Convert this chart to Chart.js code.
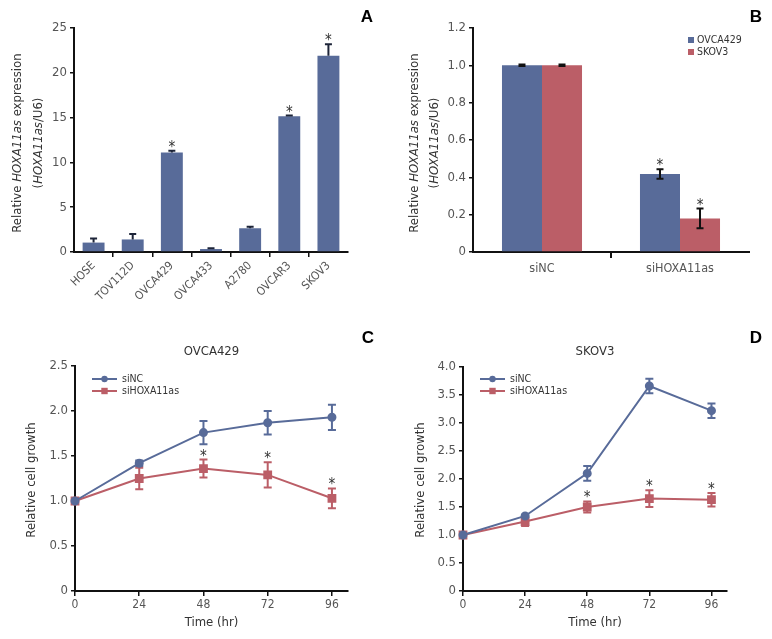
<!DOCTYPE html>
<html>
<head>
<meta charset="utf-8">
<script src="https://cdn.jsdelivr.net/npm/chart.js@4.4.1/dist/chart.umd.min.js"></script>
<style>
body { margin: 0; background: #fff; }
#fig { position: relative; width: 772px; height: 639px; }
canvas { position: absolute; }
</style>
</head>
<body>
<div id="fig">
  <canvas id="cA" width="390" height="300" style="left:0;top:0"></canvas>
  <canvas id="cB" width="382" height="300" style="left:390px;top:0"></canvas>
  <canvas id="cC" width="390" height="339" style="left:0;top:300px"></canvas>
  <canvas id="cD" width="382" height="339" style="left:390px;top:300px"></canvas>
</div>
<script>
// panel A - expression in cell lines
const cellLines = ['HOSE', 'TOV112D', 'OVCA429', 'OVCA433', 'A2780', 'OVCAR3', 'SKOV3'];
const exprMean = [1.05, 1.4, 11.1, 0.33, 2.65, 15.15, 21.9];
const exprErr = [0.45, 0.6, 0.2, 0.08, 0.18, 0.08, 1.3];
const exprSig = [false, false, true, false, false, true, true];

// panel B - knockdown
const groups = ['siNC', 'siHOXA11as'];
const kdOvca = [1.0, 0.418];
const kdOvcaErr = [0.004, 0.025];
const kdSkov = [1.0, 0.18];
const kdSkovErr = [0.004, 0.053];
const kdSig = [false, true];

// panels C and D - growth curves
const hours = [0, 24, 48, 72, 96];
const ovNC = [1.0, 1.42, 1.76, 1.87, 1.93];
const ovNCErr = [0.01, 0.03, 0.13, 0.13, 0.14];
const ovSi = [1.0, 1.25, 1.36, 1.29, 1.03];
const ovSiErr = [0.01, 0.12, 0.1, 0.14, 0.11];
const skNC = [1.0, 1.34, 2.1, 3.66, 3.22];
const skNCErr = [0.01, 0.02, 0.13, 0.13, 0.13];
const skSi = [1.0, 1.24, 1.5, 1.65, 1.63];
const skSiErr = [0.01, 0.08, 0.1, 0.15, 0.12];
const growthSig = [false, false, true, true, true];

const FONT = "'Liberation Sans Narrow', 'DejaVu Sans Condensed', 'Arial Narrow', Arial, sans-serif";
const BLUE = '#586b99';
const RED = '#bb5e67';
const AXIS = '#111';
const TICK = '#555';
const TEXT = '#333';

Chart.defaults.font.family = FONT;
Chart.defaults.font.size = 12;

function vTitle(ctx, lines, cx, cy, size) {
  // lines: [{x, parts: [[text, italic], ...]}]
  ctx.save();
  ctx.fillStyle = TEXT;
  ctx.textBaseline = 'middle';
  ctx.textAlign = 'left';
  lines.forEach(line => {
    ctx.save();
    ctx.translate(line.x, cy);
    ctx.rotate(-Math.PI / 2);
    let total = 0;
    line.parts.forEach(p => {
      ctx.font = (p[1] ? 'italic ' : '') + size + 'px ' + FONT;
      total += ctx.measureText(p[0]).width;
    });
    let x = -total / 2;
    line.parts.forEach(p => {
      ctx.font = (p[1] ? 'italic ' : '') + size + 'px ' + FONT;
      ctx.fillText(p[0], x, 0);
      x += ctx.measureText(p[0]).width;
    });
    ctx.restore();
  });
  ctx.restore();
}

function text(ctx, str, x, y, size, opts) {
  opts = opts || {};
  ctx.save();
  ctx.font = (opts.bold ? 'bold ' : '') + size + 'px ' + (opts.family || FONT);
  ctx.fillStyle = opts.color || TEXT;
  ctx.textAlign = opts.align || 'center';
  ctx.textBaseline = opts.baseline || 'middle';
  ctx.fillText(str, x, y);
  ctx.restore();
}

function letter(ctx, l, x, y) {
  text(ctx, l, x, y, 17, { bold: true, color: '#000', family: 'Arial, Liberation Sans, sans-serif' });
}

function star(ctx, x, yTop) {
  text(ctx, '*', x, yTop + 1, 15, { baseline: 'alphabetic' });
}

function errBar(ctx, x, yA, yB, half, color, capBottom) {
  ctx.save();
  ctx.strokeStyle = color;
  ctx.lineWidth = 2;
  ctx.beginPath();
  ctx.moveTo(x, yA); ctx.lineTo(x, yB);
  ctx.moveTo(x - half, yA); ctx.lineTo(x + half, yA);
  if (capBottom) { ctx.moveTo(x - half, yB); ctx.lineTo(x + half, yB); }
  ctx.stroke();
  ctx.restore();
}

function yTitleText() {
  return [
    [['Relative ', false], ['HOXA11as', true], [' expression', false]],
    [['(', false], ['HOXA11as', true], ['/U6)', false]]
  ];
}

function axisX(extra) {
  return Object.assign({
    grid: { drawOnChartArea: false, tickLength: 5, lineWidth: 1.5, color: AXIS },
    border: { color: AXIS, width: 2 },
    ticks: { color: TICK, font: { size: 12 }, padding: 2 }
  }, extra);
}
function axisY(extra) {
  return Object.assign({
    grid: { drawOnChartArea: false, tickLength: 4, lineWidth: 1.5, color: AXIS },
    border: { color: AXIS, width: 2 },
    ticks: { color: TICK, font: { size: 13 }, padding: 3 }
  }, extra);
}

// ---------- A ----------
new Chart(document.getElementById('cA'), {
  type: 'bar',
  data: {
    labels: cellLines,
    datasets: [{ data: exprMean, backgroundColor: BLUE, barPercentage: 0.56, categoryPercentage: 1 }]
  },
  options: {
    responsive: false,
    animation: false,
    layout: { padding: { top: 28, right: 42 } },
    plugins: { legend: { display: false }, tooltip: { enabled: false } },
    scales: {
      x: axisX({
        grid: { offset: true, drawOnChartArea: false, tickLength: 5, lineWidth: 1.5,
          color: c => c.index > 0 ? AXIS : 'rgba(0,0,0,0)' },
        ticks: { color: TICK, font: { size: 11.5 }, padding: 2, minRotation: 45, maxRotation: 45 },
        afterFit: s => { s.height = 48; }
      }),
      y: axisY({
        min: 0, max: 25,
        ticks: { color: TICK, font: { size: 13 }, padding: 3, stepSize: 5 },
        afterFit: s => { s.width = 74; }
      })
    }
  },
  plugins: [{
    id: 'decoA',
    afterDatasetsDraw(chart) {
      const ctx = chart.ctx;
      const y = chart.scales.y;
      chart.getDatasetMeta(0).data.forEach((bar, i) => {
        const top = y.getPixelForValue(exprMean[i] + exprErr[i]);
        errBar(ctx, bar.x, top, bar.y, 3.5, '#1d2438', false);
        if (exprSig[i]) star(ctx, bar.x, top);
      });
      const t = yTitleText();
      vTitle(ctx, [{ x: 18, parts: t[0] }, { x: 39, parts: t[1] }], 0, 143, 13);
      letter(ctx, 'A', 367, 17);
    }
  }]
});

// ---------- B ----------
const errB = [kdOvcaErr, kdSkovErr];
const valB = [kdOvca, kdSkov];
new Chart(document.getElementById('cB'), {
  type: 'bar',
  data: {
    labels: groups,
    datasets: [
      { label: 'OVCA429', data: kdOvca, backgroundColor: BLUE, barPercentage: 1, categoryPercentage: 0.58 },
      { label: 'SKOV3', data: kdSkov, backgroundColor: RED, barPercentage: 1, categoryPercentage: 0.58 }
    ]
  },
  options: {
    responsive: false,
    animation: false,
    layout: { padding: { top: 28, right: 23 } },
    plugins: { legend: { display: false }, tooltip: { enabled: false } },
    scales: {
      x: axisX({
        grid: { offset: true, drawOnChartArea: false, tickLength: 6, lineWidth: 2,
          color: c => c.index > 0 ? AXIS : 'rgba(0,0,0,0)' },
        ticks: { color: TICK, font: { size: 12.5 }, padding: 3 },
        afterFit: s => { s.height = 48; }
      }),
      y: axisY({
        min: 0, max: 1.2,
        ticks: { color: TICK, font: { size: 13 }, padding: 3, stepSize: 0.2,
          callback: v => v === 0 ? '0' : v.toFixed(1) },
        afterFit: s => { s.width = 83; }
      })
    }
  },
  plugins: [{
    id: 'decoB',
    afterDatasetsDraw(chart) {
      const ctx = chart.ctx;
      const y = chart.scales.y;
      [0, 1].forEach(d => {
        chart.getDatasetMeta(d).data.forEach((bar, i) => {
          const top = y.getPixelForValue(valB[d][i] + errB[d][i]);
          const bot = y.getPixelForValue(valB[d][i] - errB[d][i]);
          errBar(ctx, bar.x, top, bot, 3.5, '#111', true);
          if (kdSig[i]) star(ctx, bar.x, top);
        });
      });
      chart.data.datasets.forEach((ds, i) => {
        ctx.fillStyle = ds.backgroundColor;
        ctx.fillRect(298, 37 + i * 12, 6, 6);
        text(ctx, ds.label, 307, 40 + i * 12, 10.5, { align: 'left' });
      });
      const t = yTitleText();
      vTitle(ctx, [{ x: 25, parts: t[0] }, { x: 45, parts: t[1] }], 0, 143, 13);
      letter(ctx, 'B', 366, 17);
    }
  }]
});

// ---------- C / D ----------
function growthChart(id, title, nc, ncErr, si, siErr, yMax, opt) {
  const vals = [nc, si];
  const errs = [ncErr, siErr];
  new Chart(document.getElementById(id), {
    type: 'line',
    data: {
      datasets: [
        { label: 'siNC', data: hours.map((h, i) => ({ x: h, y: nc[i] })), borderColor: BLUE, backgroundColor: BLUE,
          borderWidth: 2, pointStyle: 'circle', pointRadius: 3.5, clip: false },
        { label: 'siHOXA11as', data: hours.map((h, i) => ({ x: h, y: si[i] })), borderColor: RED, backgroundColor: RED,
          borderWidth: 2, pointStyle: 'rect', pointRadius: 4.8, clip: false }
      ]
    },
    options: {
      responsive: false,
      animation: false,
      layout: { padding: { top: opt.top, right: opt.right } },
      plugins: { legend: { display: false }, tooltip: { enabled: false } },
      scales: {
        x: axisX({
          type: 'linear', min: 0, max: 102,
          afterBuildTicks: s => { s.ticks = hours.map(v => ({ value: v })); },
          afterFit: s => { s.height = 48; }
        }),
        y: axisY({
          min: 0, max: yMax,
          ticks: { color: TICK, font: { size: 13 }, padding: 3, stepSize: 0.5,
            callback: v => v === 0 ? '0' : v.toFixed(1) },
          afterFit: s => { s.width = opt.left; }
        })
      }
    },
    plugins: [{
      id: 'deco' + id,
      beforeDatasetsDraw(chart) {
        const ctx = chart.ctx;
        const y = chart.scales.y;
        [0, 1].forEach(d => {
          const col = chart.data.datasets[d].borderColor;
          chart.getDatasetMeta(d).data.forEach((pt, i) => {
            if (errs[d][i] < 0.02) return;
            errBar(ctx, pt.x, y.getPixelForValue(vals[d][i] + errs[d][i]),
              y.getPixelForValue(vals[d][i] - errs[d][i]), 4, col, true);
          });
        });
      },
      afterDatasetsDraw(chart) {
        const ctx = chart.ctx;
        const y = chart.scales.y;
        const meta = chart.getDatasetMeta(1);
        meta.data.forEach((pt, i) => {
          if (growthSig[i]) star(ctx, pt.x, y.getPixelForValue(si[i] + siErr[i]));
        });
        // legend
        chart.data.datasets.forEach((ds, i) => {
          const ly = 79 + i * 12;
          ctx.save();
          ctx.strokeStyle = ds.borderColor;
          ctx.lineWidth = 2;
          ctx.beginPath();
          ctx.moveTo(opt.lx, ly); ctx.lineTo(opt.lx + 25, ly);
          ctx.stroke();
          ctx.fillStyle = ds.borderColor;
          const mx = opt.lx + 12.5;
          if (ds.pointStyle === 'circle') {
            ctx.beginPath(); ctx.arc(mx, ly, 3.2, 0, Math.PI * 2); ctx.fill();
          } else {
            ctx.fillRect(mx - 3.2, ly - 3.2, 6.4, 6.4);
          }
          ctx.restore();
          text(ctx, ds.label, opt.lx + 30, ly, 10.5, { align: 'left' });
        });
        const ca = chart.chartArea;
        text(ctx, title, (ca.left + ca.right) / 2, 52, 13);
        text(ctx, 'Time (hr)', (ca.left + ca.right) / 2, 323, 13);
        vTitle(ctx, [{ x: opt.tx, parts: [['Relative cell growth', false]] }], 0, 180, 13);
        letter(ctx, opt.letter, opt.letterX, 38);
      }
    }]
  });
}

growthChart('cC', 'OVCA429', ovNC, ovNCErr, ovSi, ovSiErr, 2.5,
  { top: 66, right: 42, left: 75, lx: 92, tx: 32, letter: 'C', letterX: 368 });
growthChart('cD', 'SKOV3', skNC, skNCErr, skSi, skSiErr, 4.0,
  { top: 67, right: 45, left: 73, lx: 90, tx: 31, letter: 'D', letterX: 366 });
</script>
</body>
</html>
